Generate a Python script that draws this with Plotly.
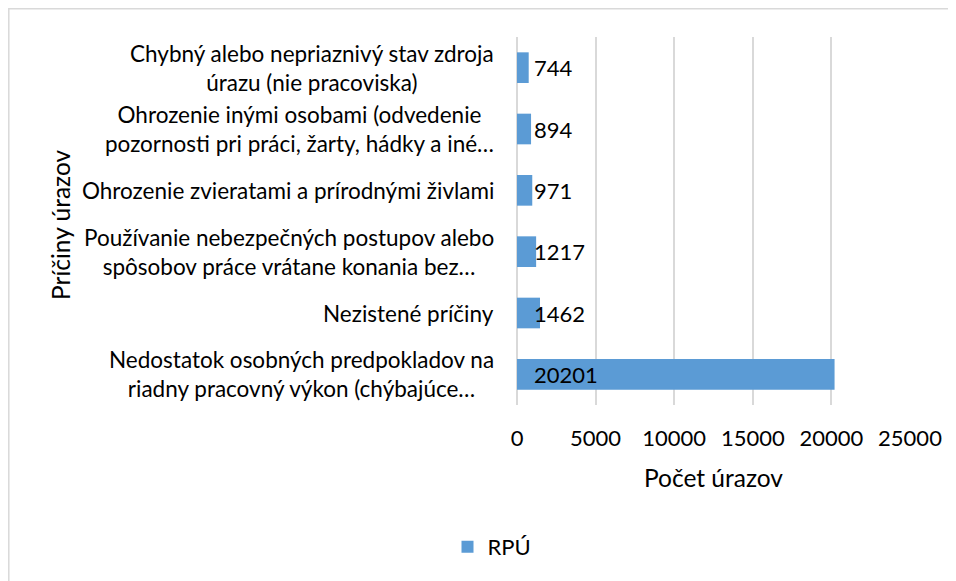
import plotly.graph_objects as go

categories = [
    "Nedostatok osobných predpokladov na<br>riadny pracovný výkon (chýbajúce…",
    "Nezistené príčiny",
    "Používanie nebezpečných postupov alebo<br>spôsobov práce vrátane konania bez…",
    "Ohrozenie zvieratami a prírodnými živlami",
    "Ohrozenie inými osobami (odvedenie<br>pozornosti pri práci, žarty, hádky a iné…",
    "Chybný alebo nepriaznivý stav zdroja<br>úrazu (nie pracoviska)",
]
values = [20201, 1462, 1217, 971, 894, 744]
series_name = "RPÚ"
x_ticks = [0, 5000, 10000, 15000, 20000, 25000]
x_title = "Počet úrazov"
y_title = "Príčiny úrazov"

FONT = "Lato"
W, H = 948, 573
ml, mr, mt, mb = 509, 46, 29, 176
pw = W - ml - mr
ph = H - mt - mb

fig = go.Figure()
fig.add_trace(go.Bar(
    y=categories, x=values, orientation="h", name=series_name,
    marker=dict(color="#5b9bd5", line=dict(width=0)), width=0.5, showlegend=True,
))

# data labels at inside base
for c, v in zip(categories, values):
    fig.add_annotation(x=0, y=c, text=str(v), showarrow=False, xanchor="left",
                       xshift=15, font=dict(family=FONT, size=22, color="#000000"))

# category labels (centered multi-line, right-aligned block)
for c in categories:
    fig.add_annotation(x=0, xref="paper", y=c, yref="y", text=c, showarrow=False,
                       xanchor="right", align="center", xshift=-21,
                       font=dict(family=FONT, size=22.5, color="#000000"))

# axis titles
fig.add_annotation(x=0.5, xref="paper", y=(ph - 469 + mt) / ph, yref="paper",
                   text=x_title, showarrow=False, xanchor="center", yanchor="middle",
                   font=dict(family=FONT, size=24.5, color="#000000"))
fig.add_annotation(x=(52 - ml) / pw, xref="paper", y=(mt + ph - 217) / ph, yref="paper",
                   text=y_title, showarrow=False, textangle=-90,
                   xanchor="center", yanchor="middle",
                   font=dict(family=FONT, size=24.5, color="#000000"))

# chart border (left and top visible)
fig.add_shape(type="rect", xref="paper", yref="paper",
              x0=(0.8 - ml) / pw, x1=(W + 20 - ml) / pw,
              y0=-(H + 20 - mt - ph) / ph, y1=(mt + ph - 0.8) / ph,
              line=dict(color="#d9d9d9", width=1.5), fillcolor="rgba(0,0,0,0)", layer="below")

fig.update_layout(
    width=W, height=H,
    margin=dict(l=ml, r=mr, t=mt, b=mb, pad=0, autoexpand=False),
    paper_bgcolor="white", plot_bgcolor="white",
    font=dict(family=FONT, size=22, color="#000000"),
    bargap=0.5,
    xaxis=dict(range=[0, 25000], tickvals=x_ticks, ticktext=[str(t) for t in x_ticks],
               showgrid=True, gridcolor="#d9d9d9", gridwidth=1.5,
               zeroline=True, zerolinecolor="#d9d9d9", zerolinewidth=1.5,
               showline=False, ticks="", ticklabelstandoff=18, automargin=False,
               tickfont=dict(family=FONT, size=22, color="#000000")),
    yaxis=dict(categoryorder="array", categoryarray=categories,
               showgrid=False, showline=False, ticks="", showticklabels=False,
               automargin=False),
    legend=dict(orientation="h", x=(484 - ml) / pw, xanchor="center",
                y=-(539 - (mt + ph)) / ph, yanchor="middle",
                font=dict(family=FONT, size=22, color="#000000")),
)

fig.write_html("out.html")
